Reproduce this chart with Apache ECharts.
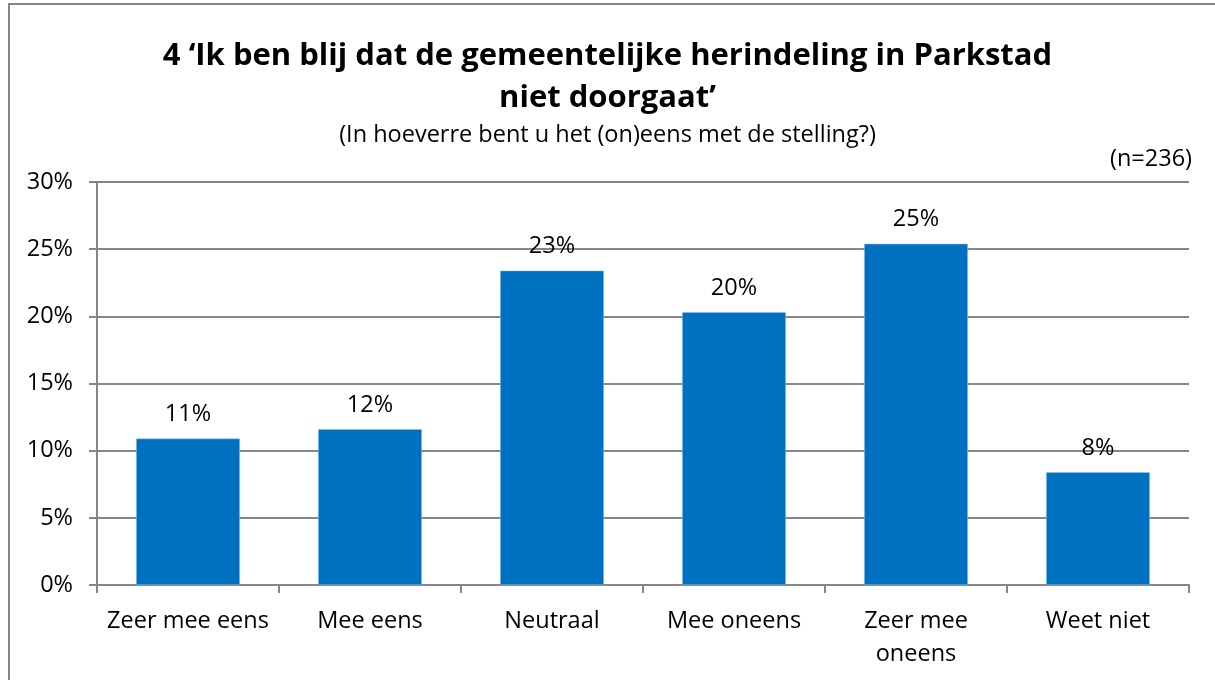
<!DOCTYPE html>
<html>
<head>
<meta charset="utf-8">
<script src="https://cdn.jsdelivr.net/npm/echarts@6/dist/echarts.min.js"></script>
<style>
  html, body { margin: 0; padding: 0; background: #fff; }
  #chart { width: 1215px; height: 680px; }
</style>
</head>
<body>
<div id="chart"></div>
<script>
var categories = ['Zeer mee eens', 'Mee eens', 'Neutraal', 'Mee oneens', 'Zeer mee\noneens', 'Weet niet'];
var values = [10.9, 11.6, 23.4, 20.3, 25.4, 8.4];
var labels = ['11%', '12%', '23%', '20%', '25%', '8%'];
var yTicks = [0, 5, 10, 15, 20, 25, 30];

var font = '"Open Sans", sans-serif';
var chart = echarts.init(document.getElementById('chart'));

var option = {
  backgroundColor: '#ffffff',
  animation: false,
  textStyle: { fontFamily: font },
  graphic: [{
    type: 'rect',
    shape: { x: 9, y: 4, width: 1215, height: 690 },
    style: { fill: 'none', stroke: '#868686', lineWidth: 2 }
  }],
  title: [{
    text: '4 \u2018Ik ben blij dat de gemeentelijke herindeling in Parkstad\nniet doorgaat\u2019',
    left: 'center',
    top: 30,
    textStyle: { fontFamily: font, fontSize: 31, fontWeight: 'bold', color: '#000', lineHeight: 42 }
  }, {
    text: '(In hoeverre bent u het (on)eens met de stelling?)',
    left: 'center',
    top: 118,
    textStyle: { fontFamily: font, fontSize: 23.5, fontWeight: 'normal', color: '#000' }
  }, {
    text: '(n=236)',
    right: 18,
    top: 142,
    textStyle: { fontFamily: font, fontSize: 23.5, fontWeight: 'normal', color: '#000' }
  }],
  grid: { left: 97, right: 26, top: 182, bottom: 95 },
  xAxis: {
    type: 'category',
    data: categories,
    axisLine: { lineStyle: { color: '#868686', width: 2 } },
    axisTick: { show: true, length: 8, alignWithLabel: false, lineStyle: { color: '#868686', width: 2 } },
    axisLabel: { fontFamily: font, fontSize: 23.5, color: '#000', margin: 20, lineHeight: 33, interval: 0 }
  },
  yAxis: {
    type: 'value',
    min: yTicks[0],
    max: yTicks[yTicks.length - 1],
    interval: 5,
    axisLine: { show: true, lineStyle: { color: '#868686', width: 2 } },
    axisTick: { show: true, length: 8, lineStyle: { color: '#868686', width: 2 } },
    splitLine: { lineStyle: { color: '#868686', width: 2 } },
    axisLabel: { fontFamily: font, fontSize: 23.5, color: '#000', margin: 24, formatter: '{value}%' }
  },
  series: [{
    type: 'bar',
    data: values,
    barCategoryGap: '43%',
    itemStyle: { color: '#0070C0', borderColor: '#9DC3E6', borderWidth: 0.5 },
    label: {
      show: true,
      position: 'top',
      distance: 12,
      fontFamily: font,
      fontSize: 23.5,
      color: '#000',
      formatter: function (p) { return labels[p.dataIndex]; }
    }
  }]
};

chart.setOption(option);
</script>
</body>
</html>
